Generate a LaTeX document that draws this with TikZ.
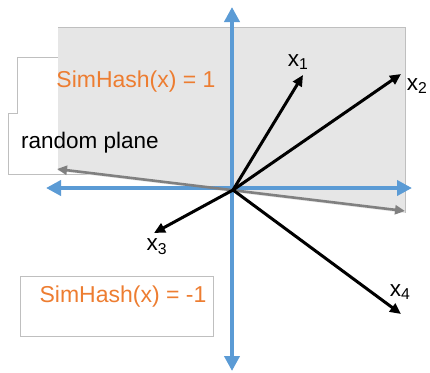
\documentclass[tikz,border=0pt]{standalone}
\usepackage{fontspec}
\setmainfont{Liberation Sans}
\usetikzlibrary{arrows.meta}
\definecolor{axisBlue}{HTML}{5B9BD5}
\definecolor{hashOrange}{HTML}{ED7D31}
\definecolor{planeGray}{HTML}{808080}
\definecolor{boxGray}{HTML}{BFBFBF}
\definecolor{fillGray}{HTML}{E6E6E6}
\tikzset{
  axis/.style={axisBlue,line width=4.5pt,-{Triangle[length=15pt,width=15pt]}},
  vec/.style={black,line width=3pt,-{Triangle[length=11pt,width=10pt]}},
  hash/.style={hashOrange,font=\fontsize{23}{27}\selectfont,inner sep=0pt},
  lbl/.style={font=\fontsize{22.5}{26}\selectfont,inner sep=0pt}
}
\begin{document}
\begin{tikzpicture}[x=1pt,y=-1pt]
\useasboundingbox (0,0) rectangle (430,372);
% text boxes that lie behind the shaded half
\draw[boxGray,line width=0.8pt] (60,57)--(17,57)--(17,113)--(8,113)--(8,174)--(110,174);
\fill[fillGray] (58,27)--(405,27)--(405,213)--(58,171)--cycle;
\draw[boxGray,line width=0.8pt] (58,27)--(405,27)--(405,213);
\node[hash] (pos) at (136,82) {SimHash(x) = 1};
\node[lbl] (plane) at (90,143) {random plane};
\draw[boxGray,line width=0.8pt] (20,276) rectangle (213,336);
\node[hash] (neg) at (123,297) {SimHash(x) = -1};
% axes
\coordinate (O) at (232,188);
\coordinate (top) at (232,7);
\coordinate (bot) at (232,371);
\coordinate (lft) at (46,188);
\coordinate (rgt) at (412,188);
\draw[axis] (O)--(top);
\draw[axis] (O)--(bot);
\draw[axis] (O)--(lft);
\draw[axis] (O)--(rgt);
% the plane
\coordinate (pl) at (57,169);
\coordinate (pr) at (405,211);
\draw[planeGray,line width=2.6pt,{Triangle[length=10pt,width=9pt]}-{Triangle[length=10pt,width=9pt]}] (pl)--(pr);
% vectors
\coordinate (V) at (233,190);
\coordinate (t1) at (303,75);
\coordinate (t2) at (401,74);
\coordinate (t3) at (154,233);
\coordinate (t4) at (401,314);
\draw[vec] (V)--(t1);
\draw[vec] (V)--(t2);
\draw[vec] (V)--(t3);
\draw[vec] (V)--(t4);
\node[lbl] (x1) at (298,62) {x\textsubscript{1}};
\node[lbl] (x2) at (417,86) {x\textsubscript{2}};
\node[lbl] (x3) at (157,247) {x\textsubscript{3}};
\node[lbl] (x4) at (400,292) {x\textsubscript{4}};
\end{tikzpicture}
\end{document}
